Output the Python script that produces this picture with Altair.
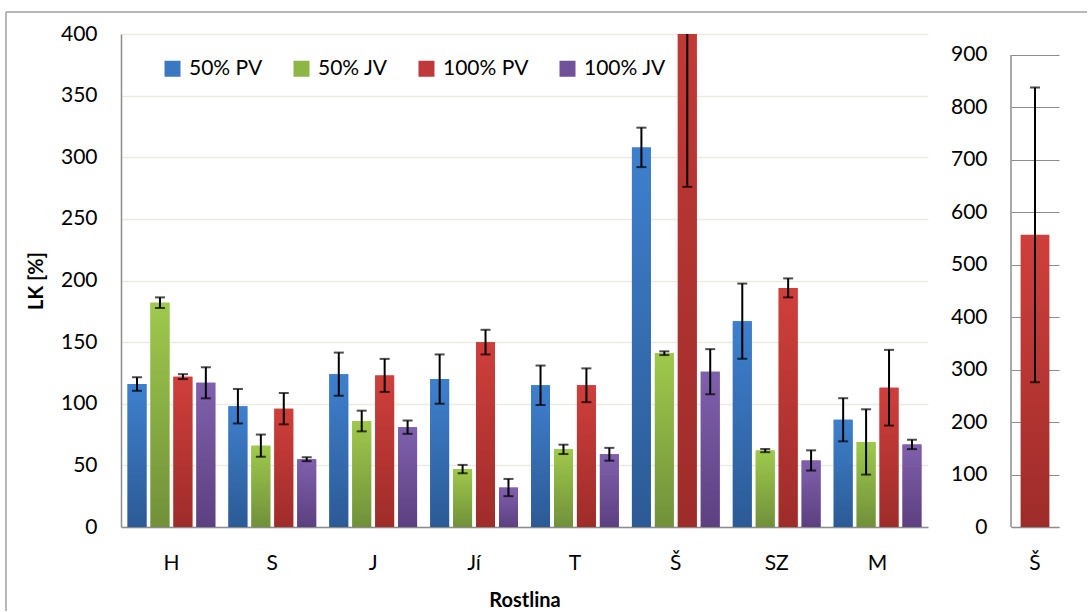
import altair as alt
import pandas as pd

groups = ["H", "S", "J", "Jí", "T", "Š", "SZ", "M"]
series = ["50% PV", "50% JV", "100% PV", "100% JV"]

pv50 = [116, 98, 124, 120, 115, 308, 167, 87]
pv50_err = [5.5, 14, 17.5, 20, 16, 16, 30.5, 17.5]
jv50 = [182, 66, 86, 47, 63, 141, 62, 69]
jv50_err = [4.3, 9, 8.4, 3.4, 3.8, 1.5, 1.3, 26.5]
pv100 = [122, 96, 123, 150, 115, 557, 194, 113]
pv100_err = [2, 12.7, 13.4, 10, 13.7, 281, 7.7, 30.7]
jv100 = [117, 55, 81, 32, 59, 126, 54, 67]
jv100_err = [12.6, 1.6, 5.4, 7, 5.2, 18.3, 8.2, 3.8]

inset_group = ["Š"]
inset_value = [557]
inset_err = [281]

solid = ["#3A78C2", "#8DB645", "#C0393A", "#71519A"]
grad_top = ["#3E80CE", "#9FC94C", "#CF3F3B", "#8060AD"]
grad_bot = ["#2C5A95", "#71903A", "#9E2C2A", "#5C4080"]

vals = [pv50, jv50, pv100, jv100]
errs = [pv50_err, jv50_err, pv100_err, jv100_err]
rows = []
for s, v, e in zip(series, vals, errs):
    for g, vv, ee in zip(groups, v, e):
        rows.append({"group": g, "series": s, "value": vv, "lo": vv - ee, "hi": vv + ee})
df = pd.DataFrame(rows)

df2 = pd.DataFrame({"group": inset_group, "series": ["100% PV"], "value": inset_value,
                    "lo": [v - e for v, e in zip(inset_value, inset_err)],
                    "hi": [v + e for v, e in zip(inset_value, inset_err)]})

FONT = "Lato"
AXC = "#8C8C8C"

def grad(i):
    return alt.Gradient(gradient="linear", x1=0, x2=0, y1=0, y2=1,
                        stops=[alt.GradientStop(color=grad_top[i], offset=0),
                               alt.GradientStop(color=grad_bot[i], offset=1)])

xenc = alt.X("group:N", sort=groups,
             scale=alt.Scale(domain=groups, paddingInner=0.13, paddingOuter=0.065),
             axis=alt.Axis(title="Rostlina", labelAngle=0, ticks=False, labelPadding=25,
                           domainColor=AXC, domainWidth=1.5, titlePadding=17))
xoff = alt.XOffset("series:N", sort=series,
                   scale=alt.Scale(domain=series, paddingInner=0.174, paddingOuter=0))
yscale = alt.Scale(domain=[0, 400], nice=False)
yaxis = alt.Axis(title="LK [%]", values=list(range(0, 401, 50)), ticks=False, labelPadding=24,
                 grid=True, gridColor="#ECEAE0", gridWidth=1.5, domainColor=AXC, domainWidth=1.5,
                 titlePadding=14)

base = alt.Chart(df).encode(x=xenc, xOffset=xoff)

legend_bars = base.mark_bar(clip=True).encode(
    y=alt.Y("value:Q", scale=yscale, axis=yaxis),
    color=alt.Color("series:N", sort=series,
                    scale=alt.Scale(domain=series, range=solid),
                    legend=alt.Legend(title=None, orient="none", legendX=41, legendY=24,
                                      direction="horizontal", symbolType="square",
                                      symbolSize=256, symbolStrokeWidth=0, symbolOpacity=1,
                                      labelFontSize=21, labelFont=FONT, labelColor="black",
                                      columnPadding=28, symbolOffset=0, labelOffset=6)))

layers = [legend_bars]
for i, s in enumerate(series):
    layers.append(base.transform_filter(alt.datum.series == s)
                  .mark_bar(clip=True, color=grad(i))
                  .encode(y=alt.Y("value:Q")))

err_rule = base.mark_rule(clip=True, color="black", strokeWidth=2).encode(
    y=alt.Y("lo:Q"), y2="hi:Q")
cap_hi = base.mark_tick(clip=True, color="black", thickness=2, size=10, orient="horizontal").encode(
    y=alt.Y("hi:Q"))
cap_lo = base.mark_tick(clip=True, color="black", thickness=2, size=10, orient="horizontal").encode(
    y=alt.Y("lo:Q"))
layers += [err_rule, cap_hi, cap_lo]

# outer chart-area frame (decoration, left and top edges)
frame_left = alt.Chart(df2).mark_rule(color="#A0A0A0", strokeWidth=1.5).encode(
    x=alt.value(-115), y=alt.value(-22), y2=alt.value(577))
frame_top = alt.Chart(df2).mark_rule(color="#A0A0A0", strokeWidth=1.5).encode(
    x=alt.value(-115), x2=alt.value(966), y=alt.value(-22))
layers += [frame_left, frame_top]

main = alt.layer(*layers).properties(width=807, height=493)

# inset panel
ydom2 = [0, 940]
yscale2 = alt.Scale(domain=ydom2, nice=False)
base2 = alt.Chart(df2).encode(
    x=alt.X("group:N", scale=alt.Scale(paddingInner=0.4, paddingOuter=0.2),
            axis=alt.Axis(title=None, labelAngle=0, ticks=False, labelPadding=25,
                          domainColor=AXC, domainWidth=1.5)))
bar2 = base2.mark_bar(color=grad(2)).encode(
    y=alt.Y("value:Q", scale=yscale2,
            axis=alt.Axis(title=None, values=list(range(0, 901, 100)), ticks=False,
                          labelPadding=24, grid=True, gridColor="#8C8C8C", gridWidth=1,
                          domain=False)))
axisline2 = alt.Chart(df2).mark_rule(color=AXC, strokeWidth=1.5).encode(
    x=alt.value(0), y=alt.datum(0), y2=alt.datum(900))
err2 = base2.mark_rule(color="black", strokeWidth=2).encode(y="lo:Q", y2="hi:Q")
cap2a = base2.mark_tick(color="black", thickness=2, size=10, orient="horizontal").encode(y="hi:Q")
cap2b = base2.mark_tick(color="black", thickness=2, size=10, orient="horizontal").encode(y="lo:Q")
inset = alt.layer(bar2, axisline2, err2, cap2a, cap2b).properties(width=48, height=493)

chart = alt.hconcat(main, inset, spacing=83, bounds="flush") \
    .resolve_scale(y="independent", color="independent") \
    .properties(padding={"left": 5, "top": 11, "right": 0, "bottom": 0}, background="white") \
    .configure_view(stroke=None) \
    .configure_axis(labelFont=FONT, labelFontSize=21, labelColor="black",
                    titleFont=FONT, titleFontSize=20, titleFontWeight="bold", titleColor="black")

chart.save("out.html", embed_options={"renderer": "svg", "actions": False})
